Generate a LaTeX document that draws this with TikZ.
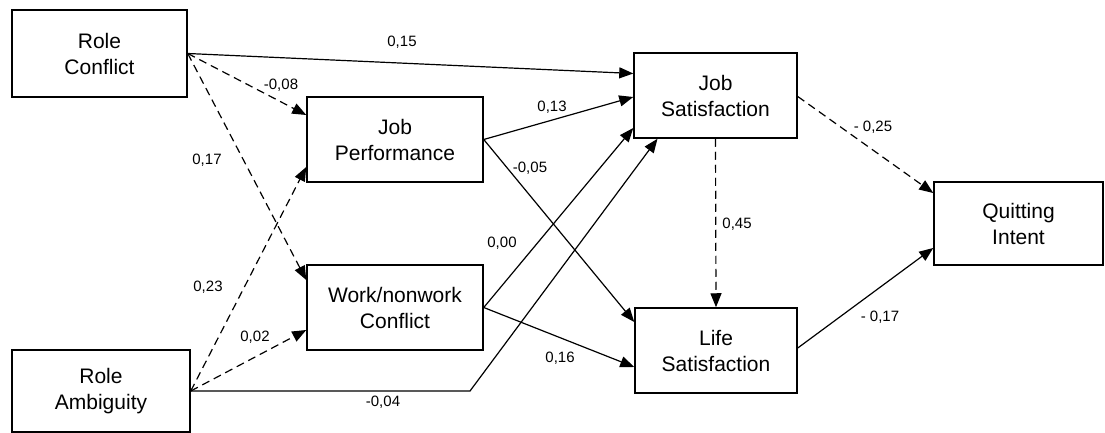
\documentclass[tikz,border=0pt]{standalone}
\usepackage{fontspec}
\setmainfont{Liberation Sans}
\usetikzlibrary{arrows.meta}
\begin{document}
\begin{tikzpicture}[x=1pt,y=-1pt,
  box/.style={draw,line width=1.5pt,rectangle,align=center,inner sep=0pt,
    font=\fontsize{21}{26}\selectfont},
  conn/.style={line width=1.2pt,-{Triangle[length=14pt,width=11pt]}},
  dconn/.style={conn,dash pattern=on 8pt off 5pt},
  lbl/.style={font=\fontsize{15}{18}\selectfont,inner sep=1pt}]
\useasboundingbox (0,0) rectangle (1105,433);
\node[box,minimum width=175pt,minimum height=87pt] (rc) at (99.5,53.5) {Role\\Conflict};
\node[box,minimum width=178pt,minimum height=82pt] (ra) at (101,391) {Role\\Ambiguity};
\node[box,minimum width=176pt,minimum height=85pt] (jp) at (395,139.5) {Job\\Performance};
\node[box,minimum width=176pt,minimum height=85pt] (wn) at (395,307.5) {Work/nonwork\\Conflict};
\node[box,minimum width=163pt,minimum height=85pt] (js) at (715.5,95.5) {Job\\Satisfaction};
\node[box,minimum width=162pt,minimum height=85pt] (ls) at (716,350.5) {Life\\Satisfaction};
\node[box,minimum width=169pt,minimum height=83pt] (qi) at (1018.5,223.5) {Quitting\\Intent};
\coordinate (bend) at (470,391);
% connectors
\draw[conn] (rc.east) -- ([yshift=22pt]js.west);
\draw[dconn] (rc.east) -- ([yshift=24.5pt]jp.west);
\draw[dconn] (rc.east) -- ([yshift=27.5pt]wn.west);
\draw[dconn] (ra.east) -- ([yshift=-27.5pt]jp.west);
\draw[dconn] (ra.east) -- ([yshift=-22.5pt]wn.west);
\draw[conn] (ra.east) -- (bend) -- ([xshift=-58pt]js.south);
\draw[conn] (jp.east) -- ([yshift=-1.5pt]js.west);
\draw[conn] (jp.east) -- ([yshift=28.5pt]ls.west);
\draw[conn] (wn.east) -- ([yshift=-32.5pt]js.west);
\draw[conn] (wn.east) -- ([yshift=-16.5pt]ls.west);
\draw[dconn] (js.south) -- (ls.north);
\draw[dconn] ([yshift=-1pt]js.east) -- ([yshift=30.5pt]qi.west);
\draw[conn] ([yshift=2.5pt]ls.east) -- ([yshift=-24.5pt]qi.west);
% labels
\node[lbl] (l1) at (402,42) {0,15};
\node[lbl] (l2) at (281,85) {-0,08};
\node[lbl] (l3) at (207,160) {0,17};
\node[lbl] (l4) at (208,287) {0,23};
\node[lbl] (l5) at (255,337) {0,02};
\node[lbl] (l6) at (552,107) {0,13};
\node[lbl] (l7) at (530,168) {-0,05};
\node[lbl] (l8) at (502,243) {0,00};
\node[lbl] (l9) at (560,358) {0,16};
\node[lbl] (l10) at (383,402) {-0,04};
\node[lbl] (l11) at (737,224) {0,45};
\node[lbl] (l12) at (873,127) {- 0,25};
\node[lbl] (l13) at (880,317) {- 0,17};
\end{tikzpicture}
\end{document}
